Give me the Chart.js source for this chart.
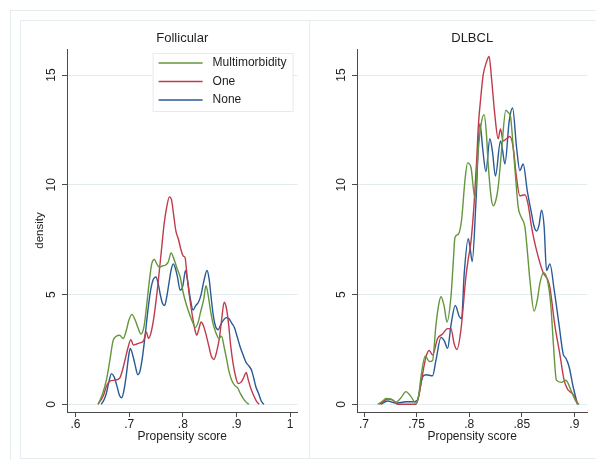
<!DOCTYPE html>
<html>
<head>
<meta charset="utf-8">
<script src="https://cdn.jsdelivr.net/npm/chart.js@4.4.1/dist/chart.umd.min.js"></script>
<style>
  body { margin: 0; background: #fff; overflow: hidden; }
  #wrap { position: relative; width: 596px; height: 460px; overflow: hidden; }
  .frame { position: absolute; border: 1px solid #e4edf0; box-sizing: border-box; }
  canvas { position: absolute; top: 0; }
</style>
</head>
<body>
<div id="wrap">
  <div class="frame" style="left:10px;top:10px;width:700px;height:470px"></div>
  <div class="frame" style="left:20px;top:20px;width:290px;height:439px"></div>
  <div class="frame" style="left:309px;top:20px;width:400px;height:439px"></div>
  <canvas id="follicular" width="300" height="460" style="left:0"></canvas>
  <canvas id="dlbcl" width="296" height="460" style="left:300px"></canvas>
</div>
<script>
// density curves: [propensity score, density]
const seriesNames = ['Multimorbidity', 'One', 'None'];
const seriesColors = ['#64963c', '#be3c4b', '#285a96'];

const follicularMulti = [[0.642,0],[0.650,0.45],[0.6575,1.1],[0.664,2.0],[0.670,2.9],[0.676,3.1],[0.682,3.15],[0.689,3.0],[0.695,3.4],[0.699,3.8],[0.705,4.1],[0.711,3.85],[0.717,3.45],[0.722,3.2],[0.728,3.6],[0.733,4.6],[0.737,5.5],[0.742,6.4],[0.747,6.6],[0.7515,6.4],[0.756,6.25],[0.761,6.3],[0.768,6.35],[0.773,6.5],[0.778,6.9],[0.783,6.65],[0.789,6.2],[0.795,5.8],[0.801,5.05],[0.807,4.5],[0.814,4.0],[0.819,3.7],[0.823,3.5],[0.828,3.7],[0.833,4.2],[0.839,4.8],[0.843,5.4],[0.847,5.0],[0.851,4.35],[0.856,3.7],[0.861,3.3],[0.867,3.0],[0.872,3.1],[0.877,2.6],[0.882,2.0],[0.886,1.5],[0.891,1.1],[0.897,0.85],[0.902,0.75],[0.907,0.5],[0.913,0.25],[0.918,0.1],[0.923,0]];
const follicularOne = [[0.642,0],[0.652,0.4],[0.658,0.85],[0.664,1.05],[0.673,1.1],[0.6825,1.2],[0.688,1.6],[0.693,2.1],[0.698,2.6],[0.703,2.95],[0.708,2.7],[0.714,2.75],[0.72,2.8],[0.727,2.9],[0.732,3.3],[0.736,3.0],[0.74,3.2],[0.745,3.8],[0.75,4.7],[0.755,5.8],[0.76,7.0],[0.765,8.2],[0.77,9.0],[0.775,9.45],[0.779,9.3],[0.783,8.6],[0.787,7.9],[0.792,7.5],[0.797,7.0],[0.801,6.75],[0.804,6.7],[0.808,5.8],[0.813,4.8],[0.818,4.0],[0.822,3.45],[0.826,3.15],[0.8295,3.4],[0.834,3.75],[0.838,3.6],[0.843,3.2],[0.848,2.7],[0.853,2.2],[0.858,2.05],[0.863,2.4],[0.868,3.0],[0.872,3.8],[0.877,4.65],[0.881,4.4],[0.885,3.7],[0.889,2.7],[0.894,1.8],[0.899,1.2],[0.903,0.95],[0.908,1.0],[0.913,1.2],[0.918,1.45],[0.922,1.1],[0.927,0.7],[0.932,0.4],[0.937,0.15],[0.942,0]];
const follicularNone = [[0.648,0],[0.653,0.2],[0.6575,0.5],[0.662,1.0],[0.667,1.4],[0.672,1.25],[0.677,0.85],[0.682,0.4],[0.686,0.3],[0.69,0.6],[0.695,1.4],[0.699,2.2],[0.702,2.55],[0.706,2.3],[0.711,1.8],[0.716,1.35],[0.72,1.5],[0.725,2.2],[0.73,3.2],[0.735,4.3],[0.74,5.2],[0.745,5.7],[0.75,5.8],[0.754,5.5],[0.758,5.0],[0.762,4.6],[0.766,4.5],[0.77,4.9],[0.774,5.5],[0.778,6.1],[0.782,6.4],[0.786,6.2],[0.79,5.8],[0.795,5.2],[0.8,5.4],[0.805,6.1],[0.809,5.6],[0.814,4.8],[0.819,4.3],[0.824,4.5],[0.829,4.65],[0.834,5.0],[0.839,5.6],[0.845,6.1],[0.849,5.7],[0.853,4.8],[0.857,4.0],[0.861,3.55],[0.866,3.4],[0.871,3.65],[0.876,3.85],[0.881,3.95],[0.886,3.9],[0.891,3.7],[0.896,3.5],[0.901,3.1],[0.907,2.6],[0.913,2.2],[0.918,1.9],[0.923,1.75],[0.928,1.55],[0.932,1.2],[0.936,0.8],[0.941,0.5],[0.946,0.15],[0.951,0]];

const dlbclMulti = [[0.7130,0],[0.7177,0.15],[0.7209,0.27],[0.7257,0.24],[0.7304,0.1],[0.7352,0.3],[0.7399,0.58],[0.7447,0.35],[0.7494,0.05],[0.7520,0.4],[0.7542,1.25],[0.7583,2.2],[0.7621,1.95],[0.7652,2.0],[0.7684,3.6],[0.7709,4.5],[0.7732,4.9],[0.7763,4.45],[0.7789,3.75],[0.7827,4.9],[0.7849,6.5],[0.7865,7.6],[0.7897,7.75],[0.7928,8.4],[0.7960,10.2],[0.7985,11.0],[0.8017,10.8],[0.8055,9.4],[0.8086,11.55],[0.8115,12.8],[0.8143,13.2],[0.8163,12.4],[0.8181,10.95],[0.8210,9.4],[0.8229,9.05],[0.8254,9.3],[0.8276,9.9],[0.8308,11.55],[0.8349,13.4],[0.8371,13.3],[0.8394,13.1],[0.8419,11.7],[0.8444,10.2],[0.8466,9.0],[0.8498,8.5],[0.8530,8.1],[0.8555,6.9],[0.8577,5.7],[0.8618,4.25],[0.8650,4.8],[0.8672,5.5],[0.8710,6.0],[0.8751,5.5],[0.8777,4.5],[0.8799,2.9],[0.8830,1.1],[0.8878,1.0],[0.8919,1.1],[0.8973,0.58],[0.9020,0.1],[0.9046,0]];
const dlbclOne = [[0.7146,0],[0.7184,0.12],[0.7225,0.24],[0.7272,0.2],[0.7320,0],[0.7494,0],[0.7520,0.35],[0.7542,0.95],[0.7589,2.15],[0.7621,2.45],[0.7652,2.25],[0.7700,3.0],[0.7747,3.2],[0.7795,3.45],[0.7827,3.45],[0.7858,2.75],[0.7884,2.5],[0.7922,3.4],[0.7969,5.8],[0.7991,6.6],[0.8017,7.4],[0.8048,9.2],[0.8070,11.0],[0.8089,12.8],[0.8111,14.0],[0.8133,15.0],[0.8165,15.6],[0.8190,15.85],[0.8212,14.9],[0.8244,13.2],[0.8276,12.1],[0.8298,12.55],[0.8323,12.0],[0.8355,12.1],[0.8387,12.2],[0.8419,11.7],[0.8450,10.35],[0.8482,9.5],[0.8530,9.55],[0.8561,9.1],[0.8593,8.1],[0.8634,7.15],[0.8704,6.0],[0.8745,5.7],[0.8767,5.35],[0.8815,3.6],[0.8862,2.3],[0.8903,1.1],[0.8935,0.7],[0.8957,0.58],[0.8989,0.45],[0.9036,0]];
const dlbclNone = [[0.7162,0],[0.7225,0.15],[0.7304,0.05],[0.7399,0.12],[0.7478,0.12],[0.7510,0.2],[0.7532,0.7],[0.7557,1.25],[0.7589,1.35],[0.7652,1.3],[0.7684,2.0],[0.7732,3.05],[0.7763,2.9],[0.7795,2.55],[0.7827,3.6],[0.7868,4.5],[0.7906,4.0],[0.7928,3.9],[0.7953,5.95],[0.7991,7.55],[0.8010,7.1],[0.8029,6.5],[0.8064,9.15],[0.8102,12.8],[0.8130,11.6],[0.8159,10.6],[0.8197,12.1],[0.8222,11.5],[0.8250,10.4],[0.8298,12.0],[0.8317,11.6],[0.8340,10.95],[0.8381,12.9],[0.8413,13.5],[0.8451,11.7],[0.8482,10.65],[0.8514,10.95],[0.8552,9.75],[0.8593,8.7],[0.8618,8.1],[0.8641,7.9],[0.8666,8.2],[0.8688,8.85],[0.8713,8.1],[0.8736,6.1],[0.8768,6.4],[0.8809,5.2],[0.8857,3.55],[0.8894,2.3],[0.8920,2.1],[0.8951,1.7],[0.8989,0.8],[0.9014,0.3],[0.9030,0]];

const follicularXTicks = [0.6, 0.7, 0.8, 0.9, 1];
const follicularXLabels = ['.6', '.7', '.8', '.9', '1'];
const dlbclXTicks = [0.7, 0.75, 0.8, 0.85, 0.9];
const dlbclXLabels = ['.7', '.75', '.8', '.85', '.9'];
const yTicks = [0, 5, 10, 15];
const yTickLabels = ['0', '5', '10', '15'];

const FONT = "'Liberation Sans', Arial, sans-serif";
const INK = '#1e1e1e';
const AXIS = '#4a4a4a';
const GRID = '#e3ecef';
Chart.defaults.font.family = FONT;
Chart.defaults.color = INK;

// panel title, rotated y tick labels and the boxed legend
const panelDecor = {
  id: 'panelDecor',
  afterDraw(chart, args, opts) {
    const { ctx, chartArea, scales } = chart;
    ctx.save();
    ctx.fillStyle = INK;
    ctx.textAlign = 'center';
    ctx.textBaseline = 'middle';
    ctx.font = '13px ' + FONT;
    ctx.fillText(opts.title, (chartArea.left + chartArea.right) / 2, 38);

    ctx.font = '12px ' + FONT;
    yTicks.forEach((v, i) => {
      ctx.save();
      ctx.translate(chartArea.left - 15, scales.y.getPixelForValue(v));
      ctx.rotate(-Math.PI / 2);
      ctx.fillText(yTickLabels[i], 0, 0);
      ctx.restore();
    });

    if (opts.legend) {
      const bx = chartArea.right - 145, by = chartArea.top + 4;
      ctx.fillStyle = '#fff';
      ctx.fillRect(bx, by, 140, 58);
      ctx.strokeStyle = '#e3ecef';
      ctx.lineWidth = 1;
      ctx.strokeRect(bx + 0.5, by + 0.5, 140, 58);
      chart.data.datasets.forEach((ds, i) => {
        const ly = by + 10 + i * 18.5;
        ctx.strokeStyle = ds.borderColor;
        ctx.lineWidth = 1.4;
        ctx.beginPath();
        ctx.moveTo(bx + 6, ly);
        ctx.lineTo(bx + 50, ly);
        ctx.stroke();
        ctx.fillStyle = INK;
        ctx.textAlign = 'left';
        ctx.fillText(ds.label, bx + 60, ly);
      });
    }
    ctx.restore();
  }
};

function drawPanel(canvasId, cfg) {
  return new Chart(document.getElementById(canvasId), {
    type: 'line',
    data: {
      datasets: cfg.series.map((pts, i) => ({
        label: seriesNames[i],
        data: pts.map(([x, y]) => ({ x, y })),
        borderColor: seriesColors[i],
        borderWidth: 1.4,
        pointRadius: 0,
        cubicInterpolationMode: 'monotone',
        fill: false
      }))
    },
    options: {
      responsive: false,
      animation: false,
      layout: { padding: { left: 0, right: cfg.padRight, top: 49, bottom: 0 } },
      plugins: {
        legend: { display: false },
        tooltip: { enabled: false },
        panelDecor: { title: cfg.title, legend: cfg.legend }
      },
      scales: {
        x: {
          type: 'linear',
          min: cfg.xMin,
          max: cfg.xMax,
          afterBuildTicks: (s) => { s.ticks = cfg.xTicks.map((v) => ({ value: v })); },
          afterFit: (s) => { s.height = 48; },
          grid: { drawOnChartArea: false, tickLength: 5, tickColor: AXIS },
          border: { color: AXIS, width: 1 },
          ticks: {
            autoSkip: false, maxRotation: 0, padding: 0, color: INK,
            font: { size: 12 },
            callback: (v, i) => cfg.xLabels[i]
          },
          title: {
            display: true, text: 'Propensity score', color: INK,
            font: { size: 12 }, padding: { top: 0, bottom: 16 }
          }
        },
        y: {
          min: -0.35,
          max: 16.19,
          afterBuildTicks: (s) => { s.ticks = yTicks.map((v) => ({ value: v })); },
          afterFit: (s) => { s.width = cfg.yWidth; },
          grid: { color: GRID, tickColor: AXIS, tickLength: 5 },
          border: { color: AXIS, width: 1 },
          ticks: { display: false },
          title: {
            display: cfg.yTitle, text: 'density', color: INK,
            font: { size: 11.5 }, padding: { top: 32.5, bottom: 0 }
          }
        }
      }
    },
    plugins: [panelDecor]
  });
}

drawPanel('follicular', {
  title: 'Follicular',
  series: [follicularMulti, follicularOne, follicularNone],
  xTicks: follicularXTicks, xLabels: follicularXLabels,
  xMin: 0.58416, xMax: 1.01379,
  yWidth: 67, padRight: 2.4, yTitle: true, legend: true
});

drawPanel('dlbcl', {
  title: 'DLBCL',
  series: [dlbclMulti, dlbclOne, dlbclNone],
  xTicks: dlbclXTicks, xLabels: dlbclXLabels,
  xMin: 0.69334, xMax: 0.91246,
  yWidth: 57, padRight: 8.6, yTitle: false, legend: false
});
</script>
</body>
</html>
